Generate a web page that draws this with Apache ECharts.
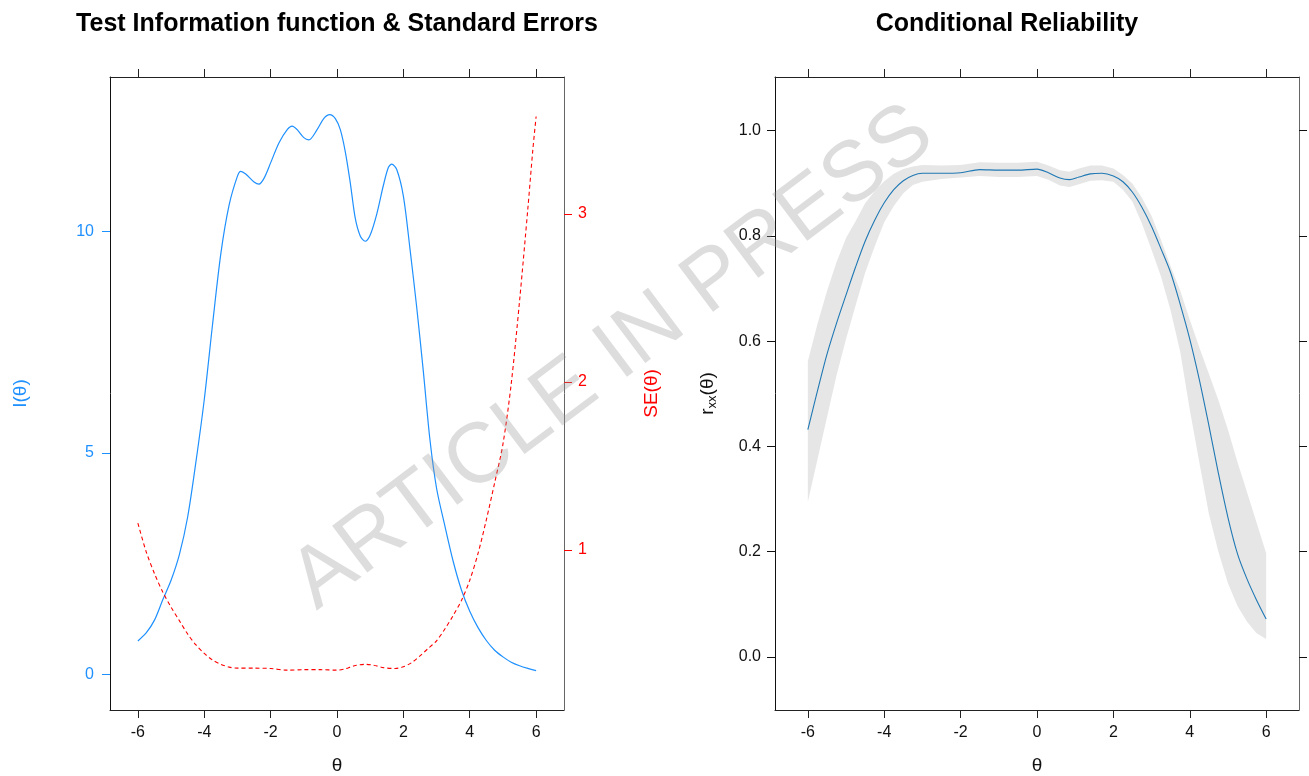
<!DOCTYPE html>
<html>
<head>
<meta charset="utf-8">
<script src="https://cdn.jsdelivr.net/npm/echarts@6/dist/echarts.min.js"></script>
<style>
  html, body { margin: 0; padding: 0; background: #fff; }
  #chart { width: 1309px; height: 776px; }
</style>
</head>
<body>
<div id="chart"></div>
<script>
// test information I(theta)
var infoTheta = [-6, -5.75, -5.5, -5.25, -5, -4.75, -4.5, -4.25, -4, -3.75, -3.5, -3.25, -3,
  -2.9, -2.75, -2.5, -2.35, -2.2, -2, -1.75, -1.5, -1.35, -1.2, -1, -0.85, -0.6, -0.4, -0.22,
  -0.05, 0.1, 0.25, 0.4, 0.55, 0.7, 0.85, 1, 1.2, 1.4, 1.55, 1.65, 1.8, 2, 2.2, 2.4, 2.6, 2.8,
  3, 3.25, 3.5, 3.75, 4, 4.25, 4.5, 4.75, 5, 5.25, 5.5, 5.75, 6];
var infoValues = [0.75, 0.93, 1.22, 1.68, 2.12, 2.7, 3.55, 4.8, 6.2, 7.9, 9.5, 10.6, 11.25,
  11.36, 11.3, 11.12, 11.07, 11.2, 11.55, 12.0, 12.3, 12.38, 12.3, 12.12, 12.07, 12.3, 12.55, 12.64,
  12.55, 12.3, 11.8, 11.1, 10.3, 9.9, 9.78, 9.92, 10.4, 11.05, 11.45, 11.52, 11.4, 10.8, 9.6, 8.3, 6.85, 5.3,
  4.2, 3.35, 2.55, 1.9, 1.42, 1.05, 0.76, 0.54, 0.39, 0.27, 0.19, 0.13, 0.08];

// standard error SE(theta), red dashed
var seTheta = [-6, -5.75, -5.5, -5.25, -5, -4.75, -4.5, -4.25, -4, -3.75, -3.5, -3.25, -3,
  -2.5, -2, -1.5, -1, -0.5, 0, 0.25, 0.5, 0.85, 1.1, 1.4, 1.75, 2, 2.25, 2.5, 2.75,
  3, 3.25, 3.5, 3.75, 4, 4.25, 4.5, 4.75, 5, 5.25, 5.5, 5.75, 5.9, 6];
var seValues = [1.16, 0.99, 0.86, 0.75, 0.66, 0.58, 0.50, 0.435, 0.385, 0.345, 0.32, 0.303, 0.297,
  0.297, 0.295, 0.285, 0.288, 0.288, 0.285, 0.293, 0.31, 0.32, 0.315, 0.30, 0.295, 0.305, 0.33, 0.37, 0.415,
  0.46, 0.53, 0.61, 0.70, 0.82, 0.98, 1.18, 1.40, 1.63, 1.99, 2.48, 3.03, 3.38, 3.58];

// conditional reliability with its band
var relTheta = [-6, -5.75, -5.5, -5.25, -5, -4.75, -4.5, -4.25, -4, -3.75, -3.5, -3.25, -3,
  -2.5, -2, -1.5, -1, -0.5, 0, 0.3, 0.6, 0.85, 1.1, 1.4, 1.7, 2, 2.25, 2.5, 2.75,
  3, 3.25, 3.5, 3.75, 4, 4.25, 4.5, 4.75, 5, 5.25, 5.5, 5.75, 6];
var relValues = [0.432, 0.505, 0.575, 0.634, 0.688, 0.741, 0.79, 0.83, 0.863, 0.888, 0.905, 0.915, 0.919,
  0.919, 0.92, 0.926, 0.925, 0.925, 0.927, 0.92, 0.91, 0.907, 0.912, 0.918, 0.919, 0.914, 0.903, 0.883, 0.854,
  0.818, 0.775, 0.73, 0.67, 0.604, 0.527, 0.44, 0.349, 0.265, 0.196, 0.148, 0.108, 0.072];
var relLower = [0.295, 0.375, 0.455, 0.535, 0.604, 0.668, 0.73, 0.78, 0.826, 0.857, 0.881, 0.897, 0.903,
  0.908, 0.911, 0.914, 0.912, 0.912, 0.914, 0.907, 0.896, 0.893, 0.898, 0.905, 0.906, 0.903, 0.888, 0.865, 0.823,
  0.774, 0.722, 0.658, 0.58, 0.47, 0.37, 0.272, 0.2, 0.14, 0.097, 0.067, 0.045, 0.034];
var relUpper = [0.562, 0.632, 0.695, 0.75, 0.796, 0.828, 0.862, 0.885, 0.904, 0.918, 0.927, 0.932, 0.935,
  0.934, 0.935, 0.94, 0.939, 0.939, 0.941, 0.934, 0.925, 0.922, 0.928, 0.934, 0.934, 0.928, 0.916, 0.899, 0.872,
  0.838, 0.792, 0.742, 0.696, 0.641, 0.588, 0.538, 0.488, 0.432, 0.37, 0.313, 0.255, 0.197];

var thetaTicks = [-6, -4, -2, 0, 2, 4, 6];
var infoTicks = [0, 5, 10];
var seTicks = [1, 2, 3];
var relTicks = [0, 0.2, 0.4, 0.6, 0.8, 1.0];

var FONT = '"Liberation Sans", Arial, sans-serif';
var BLUE = '#1E90FF';
var RED = '#FF0000';

function pairs(xs, ys) {
  return xs.map(function (x, i) { return [x, ys[i]]; });
}

function xAx(grid, pos, min, max, labels) {
  return {
    type: 'value', gridIndex: grid, position: pos, min: min, max: max,
    splitLine: { show: false },
    axisLine: { show: true, onZero: false, lineStyle: { color: '#222', width: 1 } },
    axisTick: { show: true, length: 8, customValues: thetaTicks, lineStyle: { color: '#222' } },
    axisLabel: { show: labels, customValues: thetaTicks, margin: 15,
      fontFamily: FONT, fontSize: 16, color: '#111' },
    name: labels ? 'θ' : '', nameLocation: 'middle', nameGap: 46,
    nameTextStyle: { fontFamily: FONT, fontSize: 19, color: '#111' }
  };
}

function yAx(grid, pos, min, max, ticks, labels, col, lineCol, margin) {
  return {
    type: 'value', gridIndex: grid, position: pos, min: min, max: max,
    splitLine: { show: false },
    axisLine: { show: true, onZero: false, lineStyle: { color: lineCol, width: 1 } },
    axisTick: { show: true, length: 8, customValues: ticks, lineStyle: { color: col } },
    axisLabel: { show: labels, customValues: ticks, margin: margin,
      fontFamily: FONT, fontSize: 16, color: col,
      formatter: function (v) { return grid === 1 ? v.toFixed(1) : String(v); } }
  };
}

var yInfo = yAx(0, 'left', -0.81, 13.49, infoTicks, true, BLUE, '#111', 16);
yInfo.name = 'I(θ)';
yInfo.nameLocation = 'middle';
yInfo.nameRotate = 90;
yInfo.nameGap = 80;
yInfo.nameTextStyle = { fontFamily: FONT, fontSize: 19, color: BLUE };

var ySe = yAx(0, 'right', 0.048, 3.815, seTicks, true, RED, '#666', 14);
ySe.name = 'SE(θ)';
ySe.nameLocation = 'middle';
ySe.nameRotate = 90;
ySe.nameGap = 78;
ySe.nameTextStyle = { fontFamily: FONT, fontSize: 19, color: RED };

var yRel = yAx(1, 'left', -0.1007, 1.102, relTicks, true, '#111', '#111', 14);
yRel.name = '{r|r}{s|xx}{r|(θ)}';
yRel.nameLocation = 'middle';
yRel.nameRotate = 90;
yRel.nameGap = 56;
yRel.nameTextStyle = {
  fontFamily: FONT, color: '#111',
  rich: {
    r: { fontFamily: FONT, fontSize: 19, color: '#111' },
    s: { fontFamily: FONT, fontSize: 13, color: '#111', padding: [9, 0, 0, 0] }
  }
};

var yRelR = yAx(1, 'right', -0.1007, 1.102, relTicks, false, '#111', '#666', 14);

var bandData = relTheta.map(function (t, i) { return [t, relLower[i], relUpper[i]]; });

var option = {
  animation: false,
  backgroundColor: '#fff',
  grid: [
    { left: 110, top: 77, width: 454, height: 633, outerBoundsMode: 'none', containLabel: false },
    { left: 775, top: 77, width: 524, height: 633, outerBoundsMode: 'none', containLabel: false }
  ],
  xAxis: [
    xAx(0, 'bottom', -6.84, 6.84, true),
    xAx(0, 'top', -6.84, 6.84, false),
    xAx(1, 'bottom', -6.86, 6.86, true),
    xAx(1, 'top', -6.86, 6.86, false)
  ],
  yAxis: [yInfo, ySe, yRel, yRelR],
  series: [
    {
      type: 'line', xAxisIndex: 0, yAxisIndex: 0,
      data: pairs(infoTheta, infoValues),
      showSymbol: false, smooth: 0.3,
      lineStyle: { color: BLUE, width: 1.2 }
    },
    {
      type: 'line', xAxisIndex: 0, yAxisIndex: 1,
      data: pairs(seTheta, seValues),
      showSymbol: false, smooth: 0.3,
      lineStyle: { color: RED, width: 1.1, type: [4, 3] }
    },
    {
      type: 'custom', xAxisIndex: 2, yAxisIndex: 2,
      data: bandData,
      encode: { x: 0, y: [1, 2] },
      silent: true, z: 1,
      renderItem: function (params, api) {
        if (params.dataIndex !== 0) return;
        var pts = [];
        bandData.forEach(function (d) { pts.push(api.coord([d[0], d[2]])); });
        for (var i = bandData.length - 1; i >= 0; i--) {
          pts.push(api.coord([bandData[i][0], bandData[i][1]]));
        }
        return { type: 'polygon', shape: { points: pts }, style: { fill: '#E6E6E6' } };
      }
    },
    {
      type: 'line', xAxisIndex: 2, yAxisIndex: 2,
      data: pairs(relTheta, relValues),
      showSymbol: false, smooth: 0.3, z: 3,
      lineStyle: { color: '#1F78B4', width: 1.1 }
    }
  ],
  graphic: [
    { type: 'text', x: 337, y: 24, z: 50,
      style: { text: 'Test Information function & Standard Errors', font: 'bold 25px ' + FONT,
        fill: '#000', textAlign: 'center', textVerticalAlign: 'middle' } },
    { type: 'text', x: 1007, y: 24, z: 50,
      style: { text: 'Conditional Reliability', font: 'bold 25px ' + FONT,
        fill: '#000', textAlign: 'center', textVerticalAlign: 'middle' } },
    { type: 'text', x: 613, y: 358, rotation: 37 * Math.PI / 180, z: 100, silent: true,
      style: { text: 'ARTICLE IN PRESS', font: '85px ' + FONT,
        fill: 'rgba(150,150,150,0.32)', textAlign: 'center', textVerticalAlign: 'middle' } }
  ]
};

var chart = echarts.init(document.getElementById('chart'), null, { renderer: 'canvas' });
chart.setOption(option);
</script>
</body>
</html>
